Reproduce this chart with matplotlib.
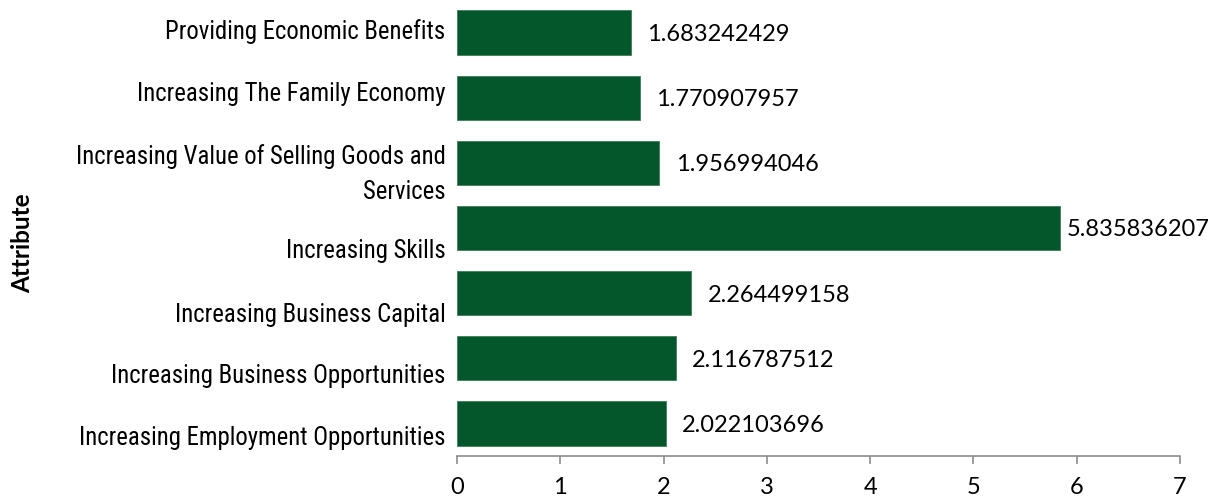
import matplotlib
matplotlib.use("Agg")
import matplotlib.pyplot as plt
from matplotlib import font_manager

categories = [
    "Increasing Employment Opportunities",
    "Increasing Business Opportunities",
    "Increasing Business Capital",
    "Increasing Skills",
    "Increasing Value of Selling Goods and\nServices",
    "Increasing The Family Economy",
    "Providing Economic Benefits",
]
values = [2.022103696, 2.116787512, 2.264499158, 5.835836207,
          1.956994046, 1.770907957, 1.683242429]
value_labels = ["2.022103696", "2.116787512", "2.264499158", "5.835836207",
                "1.956994046", "1.770907957", "1.683242429"]
x_ticks = [0, 1, 2, 3, 4, 5, 6, 7]
axis_title = "Attribute"

# label vertical offsets (in category units) to mimic the original layout
label_offsets = [-0.22, -0.27, -0.33, -0.36, -0.17, 0.06, 0.01]
# horizontal gap between bar end and value label (data units)
value_gaps = [0.16, 0.16, 0.16, 0.07, 0.16, 0.16, 0.16]

names = {f.name for f in font_manager.fontManager.ttflist}
narrow = None
for cand in ["Liberation Sans Narrow", "Roboto Condensed", "Open Sans Condensed",
             "Arial Narrow", "DejaVu Sans Condensed"]:
    if cand in names:
        narrow = cand
        break
if narrow is None:
    narrow, cat_size = "Liberation Sans", 15.8
else:
    cat_size = 17.8

fig = plt.figure(figsize=(12.14, 4.99), dpi=100)
ax = fig.add_axes([0.3764, 0.0862, 0.5956, 0.9138])

bar_color = "#04572A"
y = list(range(len(categories)))
ax.barh(y, values, height=0.68, color=bar_color, edgecolor="#3d7d58", linewidth=0.6)

ax.set_xlim(0, 7)
ax.set_ylim(-0.5, len(categories) - 0.5)
ax.set_xticks(x_ticks)
ax.set_xticklabels([str(t) for t in x_ticks], fontfamily="Lato", fontsize=17)
ax.tick_params(axis="x", direction="out", length=6, width=1.2, color="#8c8c8c", pad=9)

ax.set_yticks([])
for i, (cat, off) in enumerate(zip(categories, label_offsets)):
    ax.text(-0.11, i + off, cat, ha="right", va="center", fontsize=cat_size,
            fontfamily=narrow, color="#000000", linespacing=1.6,
            transform=ax.transData)

for i, (v, lab, g) in enumerate(zip(values, value_labels, value_gaps)):
    ax.text(v + g, i - 0.03, lab, ha="left", va="center", fontsize=17,
            fontfamily="Lato", color="#000000")

for s in ["top", "right", "left"]:
    ax.spines[s].set_visible(False)
ax.spines["bottom"].set_color("#8c8c8c")
ax.spines["bottom"].set_linewidth(1.2)

fig.text(0.019, 0.513, axis_title, rotation=90, ha="center", va="center",
         fontsize=17.5, fontweight="bold", fontfamily="Lato")

fig.savefig("out.png", dpi=100)
